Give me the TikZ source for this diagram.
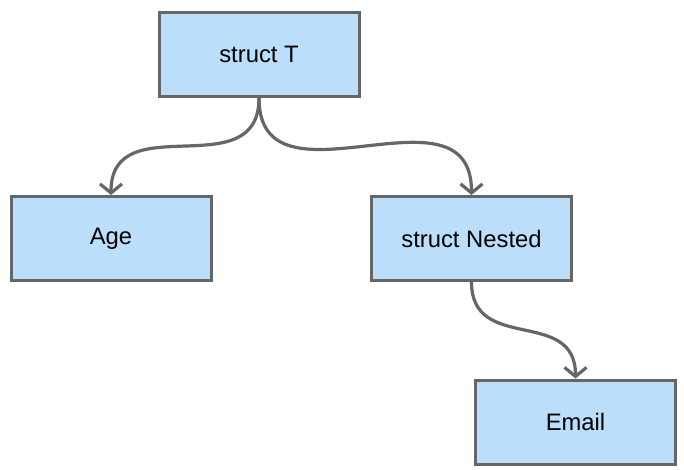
\documentclass[tikz,border=0pt]{standalone}
\usepackage{fontspec}
\setmainfont{Liberation Sans}
\usetikzlibrary{arrows.meta}
\definecolor{boxfill}{HTML}{BBDEFB}
\definecolor{edge}{HTML}{666666}

\begin{document}
\begin{tikzpicture}[x=1pt, y=-1pt,
    field/.style={draw=edge, fill=boxfill, line width=3pt,
      minimum width=200pt, minimum height=84pt, inner sep=0pt,
      font=\fontsize{23.8}{28}\selectfont},
    link/.style={draw=edge, line width=3.2pt,
      -{Straight Barb[length=9pt,width=22pt]},
      out=-90, in=90, looseness=1.3}]
  \useasboundingbox (0,0) rectangle (684,470);
  % fields
  \node[field] (root)   at (259,54.5)  {struct T};
  \node[field] (age)    at (111,238.5) {Age};
  \node[field] (nested) at (471.5,238.5) {struct Nested};
  \node[field] (email)  at (575.5,422) {Email};
  % links
  \draw[link] (root.south) to (age.north);
  \draw[link] (root.south) to (nested.north);
  \draw[link] (nested.south) to (email.north);
\end{tikzpicture}
\end{document}
